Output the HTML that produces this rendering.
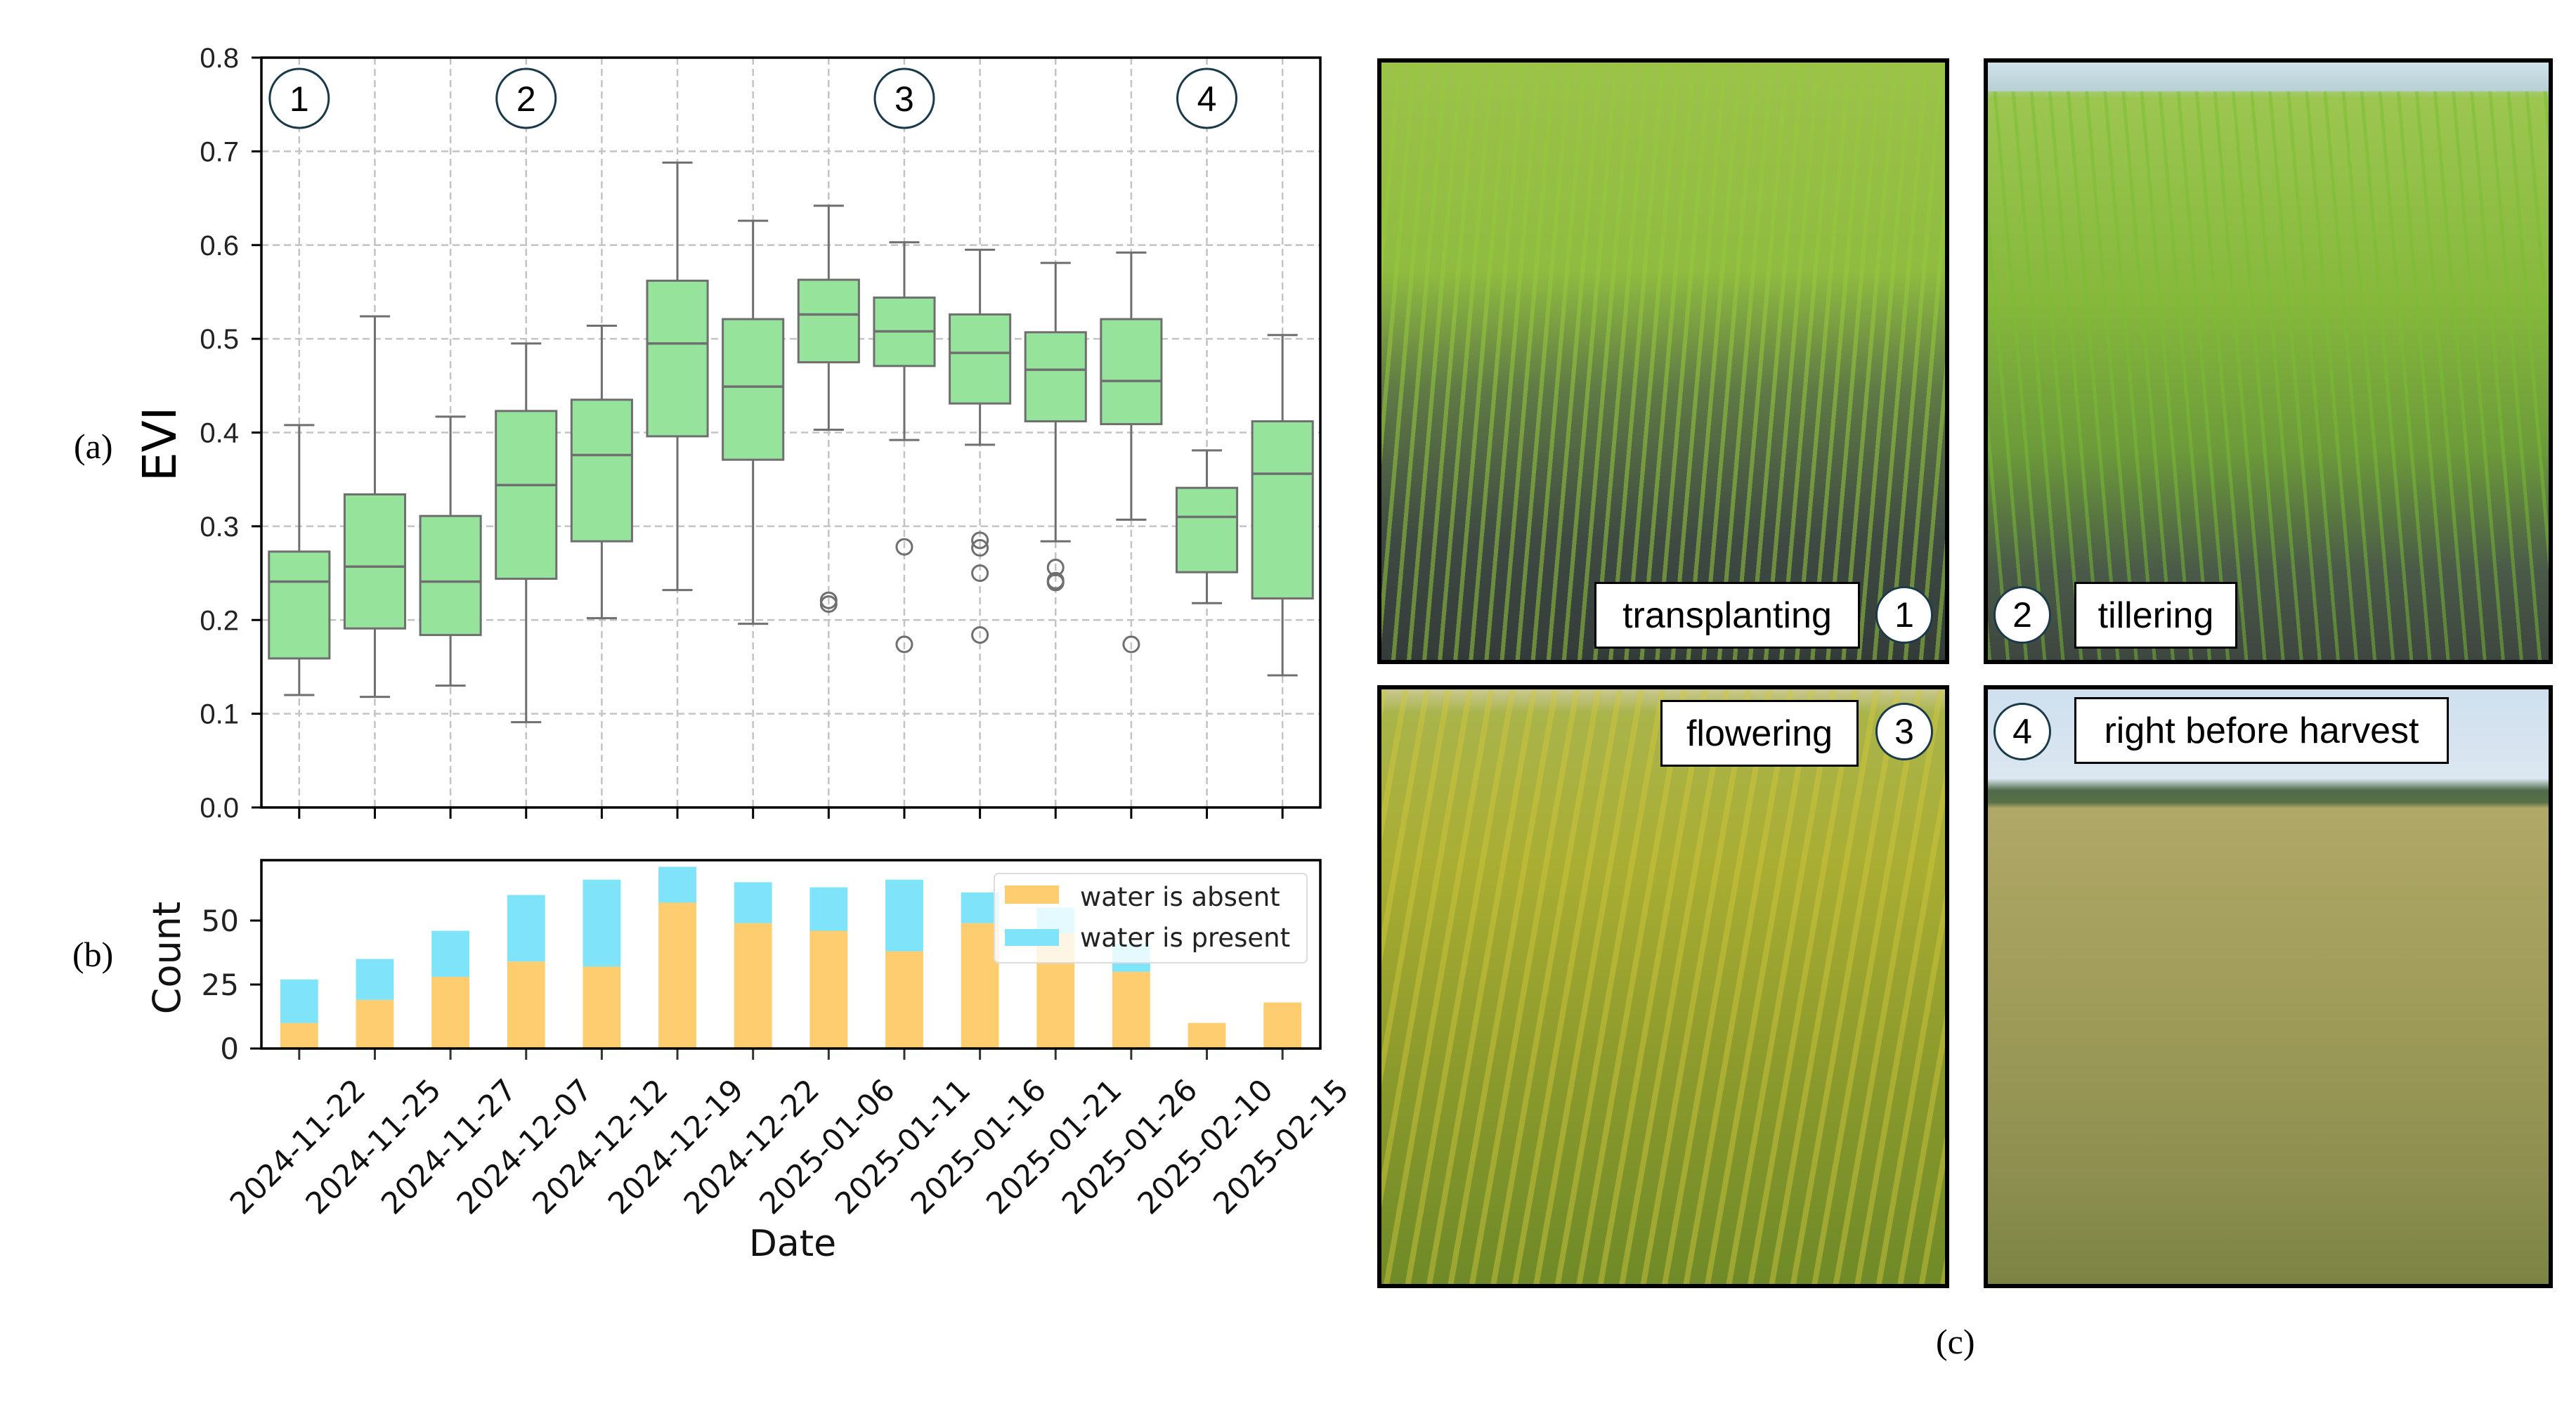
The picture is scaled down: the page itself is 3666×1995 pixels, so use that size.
<!DOCTYPE html>
<html><head><meta charset="utf-8">
<style>
html,body{margin:0;padding:0;background:#fff;}
body{width:3666px;height:1995px;position:relative;overflow:hidden;font-family:"Liberation Sans",sans-serif;}
svg{position:absolute;left:0;top:0;}
.photo{position:absolute;box-sizing:border-box;border:6px solid #000;overflow:hidden;}
.lbl{position:absolute;background:#fff;border:3px solid #000;box-sizing:border-box;font-family:"Liberation Sans",sans-serif;font-size:52px;color:#000;display:flex;align-items:center;justify-content:center;}
.circ{position:absolute;width:82px;height:82px;border-radius:50%;background:#fff;border:3px solid #1a3a4a;box-sizing:border-box;font-size:50px;display:flex;align-items:center;justify-content:center;font-family:"Liberation Sans",sans-serif;}
</style></head>
<body>
<svg id="chart" width="3666" height="1995"></svg>

<div class="photo" style="left:1960px;top:83px;width:814px;height:862px;background:
repeating-linear-gradient(95deg,rgba(150,200,60,0.55) 0 6px,rgba(0,0,0,0) 6px 22px),
linear-gradient(180deg,#9cc24a 0%,#8fbb40 35%,#5f7a45 55%,#3e4a42 80%,#343c3a 100%);"></div>
<div class="photo" style="left:2823px;top:83px;width:810px;height:862px;background:
linear-gradient(180deg,#cfe3ea 0,#b9d0d6 40px,rgba(0,0,0,0) 42px),
repeating-linear-gradient(85deg,rgba(120,190,50,0.5) 0 5px,rgba(0,0,0,0) 5px 26px),
linear-gradient(180deg,#cfe3ea 0%,#9cc650 6%,#86b83c 40%,#6c9a3a 65%,#4a5a48 85%,#3e4640 100%);"></div>
<div class="photo" style="left:1960px;top:975px;width:814px;height:858px;background:
repeating-linear-gradient(100deg,rgba(210,200,60,0.45) 0 8px,rgba(0,0,0,0) 8px 30px),
linear-gradient(180deg,#c8c890 0%,#a9b44a 4%,#a9ad32 30%,#8f9c2c 60%,#6f8a28 100%);"></div>
<div class="photo" style="left:2823px;top:975px;width:810px;height:858px;background:
linear-gradient(180deg,#cfe0ef 0%,#dbe6f0 15%,#4f6a4a 17%,#5a7048 19%,#b0a866 20%,#a19d5a 50%,#8e9050 80%,#7c8444 100%);"></div>

<div class="lbl" style="left:2269px;top:828px;width:378px;height:95px;">transplanting</div>
<div class="circ" style="left:2669px;top:834px;">1</div>
<div class="circ" style="left:2837px;top:834px;">2</div>
<div class="lbl" style="left:2952px;top:828px;width:232px;height:95px;">tillering</div>
<div class="lbl" style="left:2363px;top:996px;width:282px;height:95px;">flowering</div>
<div class="circ" style="left:2669px;top:1000px;">3</div>
<div class="circ" style="left:2837px;top:1000px;">4</div>
<div class="lbl" style="left:2952px;top:992px;width:533px;height:95px;">right before harvest</div>
<div style="position:absolute;left:2755px;top:1880px;font-family:'Liberation Serif',serif;font-size:50px;">(c)</div>

<script>
const dates=["2024-11-22","2024-11-25","2024-11-27","2024-12-07","2024-12-12","2024-12-19","2024-12-22","2025-01-06","2025-01-11","2025-01-16","2025-01-21","2025-01-26","2025-02-10","2025-02-15"];
const whiskLo=[0.120,0.118,0.130,0.091,0.202,0.232,0.196,0.403,0.392,0.387,0.284,0.307,0.218,0.141];
const q1=[0.159,0.191,0.184,0.244,0.284,0.396,0.371,0.475,0.471,0.431,0.412,0.409,0.251,0.223];
const med=[0.241,0.257,0.241,0.344,0.376,0.495,0.449,0.526,0.508,0.485,0.467,0.455,0.310,0.356];
const q3=[0.273,0.334,0.311,0.423,0.435,0.562,0.521,0.563,0.544,0.526,0.507,0.521,0.341,0.412];
const whiskHi=[0.408,0.524,0.417,0.495,0.514,0.688,0.626,0.642,0.603,0.595,0.581,0.592,0.381,0.504];
const outlierIdx=[7,7,8,8,9,9,9,9,10,10,10,11];
const outlierVal=[0.221,0.217,0.278,0.174,0.285,0.277,0.250,0.184,0.256,0.242,0.240,0.174];
const stageIdx=[0,3,8,12];
const stageLbl=["1","2","3","4"];
const eviTicks=[0,0.1,0.2,0.3,0.4,0.5,0.6,0.7,0.8];
const absent=[10,19,28,34,32,57,49,46,38,49,45,30,10,18];
const present=[17,16,18,26,34,14,16,17,28,12,10,11,0,0];
const countTicks=[0,25,50];

const NS="http://www.w3.org/2000/svg";
const svg=document.getElementById('chart');
function mk(tag,attrs,parent){const e=document.createElementNS(NS,tag);for(const k in attrs)e.setAttribute(k,attrs[k]);(parent||svg).appendChild(e);return e;}
const L=372,R=1879,band=(R-L)/dates.length;
const xC=i=>L+band*(i+0.5);
const A_TOP=82,A_BOT=1149;
const yA=v=>A_BOT-(v/0.8)*(A_BOT-A_TOP);
const B_TOP=1224,B_BOT=1492,BMAX=73.6;
const yB=v=>B_BOT-(v/BMAX)*(B_BOT-B_TOP);

const ga=mk('g',{});


eviTicks.forEach(t=>{
  const l=mk('line',{x1:L,x2:R,y1:yA(t),y2:yA(t),stroke:'#c4c4c4','stroke-width':2.5,'stroke-dasharray':'10,6'},ga);
  
  const tk=mk('line',{x1:L-14,x2:L,y1:yA(t),y2:yA(t),stroke:'#000','stroke-width':3},ga);
  
  const tx=mk('text',{x:L-32,y:yA(t)+14,'text-anchor':'end','font-size':40,fill:'#222','font-family':'Liberation Sans, sans-serif'},ga);
  tx.textContent=t.toFixed(1);
  
});
dates.forEach((d,i)=>{
  const l=mk('line',{x1:xC(i),x2:xC(i),y1:A_TOP,y2:A_BOT,stroke:'#c4c4c4','stroke-width':2.5,'stroke-dasharray':'10,6'},ga);
  
  const tk=mk('line',{x1:xC(i),x2:xC(i),y1:A_BOT,y2:A_BOT+16,stroke:'#000','stroke-width':3},ga);
  
});
const bw=band*0.8;
dates.forEach((d,i)=>{
  const g=mk('g',{},ga);
  
  const c=xC(i),st='#6f6f6f';
  mk('line',{x1:c,x2:c,y1:yA(whiskHi[i]),y2:yA(q3[i]),stroke:st,'stroke-width':3},g);
  mk('line',{x1:c,x2:c,y1:yA(q1[i]),y2:yA(whiskLo[i]),stroke:st,'stroke-width':3},g);
  mk('line',{x1:c-bw/4,x2:c+bw/4,y1:yA(whiskHi[i]),y2:yA(whiskHi[i]),stroke:st,'stroke-width':3},g);
  mk('line',{x1:c-bw/4,x2:c+bw/4,y1:yA(whiskLo[i]),y2:yA(whiskLo[i]),stroke:st,'stroke-width':3},g);
  mk('rect',{x:c-bw/2,y:yA(q3[i]),width:bw,height:yA(q1[i])-yA(q3[i]),fill:'#96e39c',stroke:st,'stroke-width':3},g);
  mk('line',{x1:c-bw/2,x2:c+bw/2,y1:yA(med[i]),y2:yA(med[i]),stroke:st,'stroke-width':3.5},g);
});
outlierIdx.forEach((i,k)=>{
  const o=mk('circle',{cx:xC(i),cy:yA(outlierVal[k]),r:11,fill:'none',stroke:'#6f6f6f','stroke-width':3},ga);
  
});
stageIdx.forEach((i,k)=>{
  const c=mk('circle',{cx:xC(i),cy:140,r:42,fill:'#fff',stroke:'#1a3a4a','stroke-width':3},ga);
  
  const t=mk('text',{x:xC(i),y:158,'text-anchor':'middle','font-size':50,fill:'#000','font-family':'Liberation Sans, sans-serif'},ga);
  t.textContent=stageLbl[k];
  
});
const fa=mk('rect',{x:L,y:A_TOP,width:R-L,height:A_BOT-A_TOP,fill:'none',stroke:'#000','stroke-width':3.5},ga);

const evl=mk('text',{x:0,y:0,transform:'translate(250,632) rotate(-90)','text-anchor':'middle','font-size':66,fill:'#000','font-family':'DejaVu Sans, sans-serif'});
evl.textContent='EVI';

const pa=mk('text',{x:105,y:652,'font-size':50,fill:'#000','font-family':'Liberation Serif, serif'});
pa.textContent='(a)';


const gb=mk('g',{});

const barW=band*0.5;
dates.forEach((d,i)=>{
  const a=mk('rect',{x:xC(i)-barW/2,y:yB(absent[i]),width:barW,height:yB(0)-yB(absent[i]),fill:'#fdcd6f'},gb);
  
  const p=mk('rect',{x:xC(i)-barW/2,y:yB(absent[i]+present[i]),width:barW,height:yB(absent[i])-yB(absent[i]+present[i]),fill:'#7fe3fa'},gb);
  
  const tk=mk('line',{x1:xC(i),x2:xC(i),y1:B_BOT,y2:B_BOT+16,stroke:'#333','stroke-width':3},gb);
  
  const t=mk('text',{x:0,y:0,transform:`translate(${xC(i)},1634) rotate(-45)`,'text-anchor':'middle','dominant-baseline':'middle','font-size':43,fill:'#111','font-family':'DejaVu Sans, sans-serif'},gb);
  t.textContent=d;
  
});
countTicks.forEach(t=>{
  const tk=mk('line',{x1:L-16,x2:L,y1:yB(t),y2:yB(t),stroke:'#000','stroke-width':3},gb);
  
  const tx=mk('text',{x:L-32,y:yB(t)+15,'text-anchor':'end','font-size':42,fill:'#222','font-family':'DejaVu Sans, sans-serif'},gb);
  tx.textContent=t;
  
});
const fb=mk('rect',{x:L,y:B_TOP,width:R-L,height:B_BOT-B_TOP,fill:'none',stroke:'#000','stroke-width':3.5},gb);

const leg=mk('g',{},gb);

mk('rect',{x:1415,y:1243,width:445,height:127,rx:6,fill:'rgba(255,255,255,0.8)',stroke:'#ddd','stroke-width':2},leg);
mk('rect',{x:1430,y:1260,width:77,height:26,fill:'#fdcd6f'},leg);
mk('rect',{x:1430,y:1322,width:77,height:24,fill:'#7fe3fa'},leg);
const l1=mk('text',{x:1537,y:1289,'font-size':37,fill:'#222','font-family':'DejaVu Sans, sans-serif'},leg);
l1.textContent='water is absent';

const l2=mk('text',{x:1537,y:1347,'font-size':37,fill:'#222','font-family':'DejaVu Sans, sans-serif'},leg);
l2.textContent='water is present';

const cl=mk('text',{x:0,y:0,transform:'translate(256,1363) rotate(-90)','text-anchor':'middle','font-size':54,fill:'#111','font-family':'DejaVu Sans, sans-serif'});
cl.textContent='Count';

const pb=mk('text',{x:103,y:1375,'font-size':50,fill:'#000','font-family':'Liberation Serif, serif'});
pb.textContent='(b)';

const dl=mk('text',{x:1128,y:1787,'text-anchor':'middle','font-size':52,fill:'#111','font-family':'DejaVu Sans, sans-serif'});
dl.textContent='Date';

</script>
</body></html>
